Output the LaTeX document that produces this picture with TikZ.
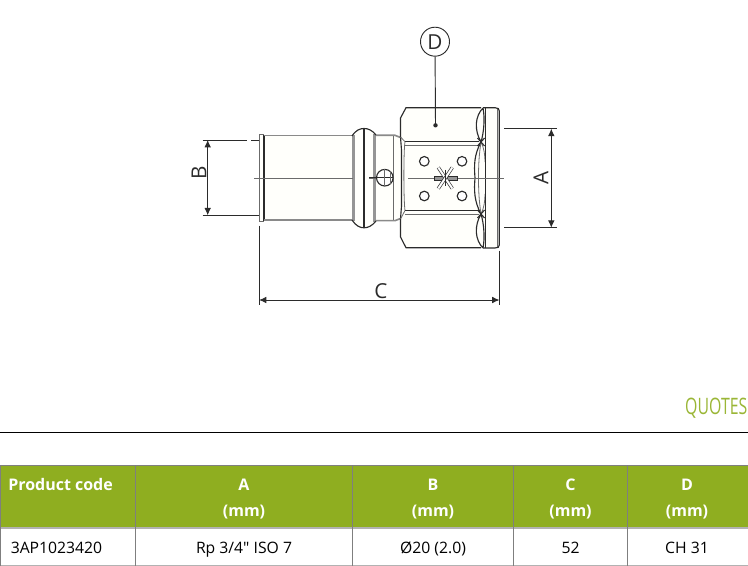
\documentclass[tikz,border=0pt]{standalone}
\usepackage{fontspec}
\setmainfont{Open Sans}[Ligatures=TeXOff]
\definecolor{hdr}{HTML}{8FAE20}
\definecolor{grid}{HTML}{7F7F7F}
\definecolor{ink}{HTML}{2B2B2B}
\definecolor{fillw}{HTML}{FFFFFB}
\usetikzlibrary{arrows.meta}
\tikzset{
  dimline/.style={draw=ink,line width=.7pt},
  dimarrow/.style={dimline,{Latex[length=5.5pt,width=5pt]}-{Latex[length=5.5pt,width=5pt]}},
  outline/.style={draw=ink,line width=.85pt},
  thinl/.style={draw=ink!70,line width=.6pt},
  greyl/.style={draw=ink!55,line width=1.2pt},
  bandl/.style={draw=ink!50,line width=2.2pt},
  thick1/.style={draw=ink,line width=1.6pt},
  centre/.style={draw=ink!70,line width=.7pt},
  stararm/.style={draw=ink,line width=.5pt,double=white,double distance=1.5pt},
  dimlabel/.style={font=\fontsize{15.5}{15.5}\selectfont,text=ink,inner sep=0pt},
  hcell/.style={font=\bfseries\fontsize{12}{16.5}\selectfont,text=white,align=center,inner sep=0pt},
  bcell/.style={font=\fontsize{11.8}{14}\selectfont,text=black,inner sep=0pt},
  gridv/.style={draw=grid,line width=.8pt},
  gridh/.style={draw=grid!60,line width=.8pt},
}
\begin{document}
\begin{tikzpicture}[x=0.75pt,y=-0.75pt]
\useasboundingbox (0,0) rectangle (748,566);
% --- fitting: fill
\fill[fillw] (259,134.5) rectangle (264,221.5);
\fill[fillw] (264,136) -- (352,136) .. controls (356,130) and (360,128.5) .. (364,128.5) .. controls (368,128.5) and (372,130) .. (376,135) -- (395,135) -- (400.5,137) -- (400.5,118) -- (406,107.7) -- (495,107.7) .. controls (498,107.7) and (499.3,109) .. (499.3,111) -- (499.3,245) .. controls (499.3,247) and (498,248) .. (495,248) -- (406,248) -- (400.5,237) -- (400.5,219) -- (395,221) -- (376,221) .. controls (372,226) and (368,227.8) .. (364,227.8) .. controls (360,227.8) and (356,226) .. (352,220) -- (264,220) -- cycle;
% tube
\draw[thinl] (259,134.5) rectangle (263,221.5);
\draw[thick1] (264,135.5) -- (264,221);
\draw[greyl] (264,135.7) -- (352,135.7);
\draw[greyl] (264,220) -- (352,220);
% bead
\draw[bandl] (353.5,135) -- (353.5,221);
\draw[thick1] (364,128.5) -- (364,227.8);
\draw[bandl] (374.5,134) -- (374.5,222);
\draw[outline] (352,136) .. controls (356,130) and (360,128.5) .. (364,128.5) .. controls (368,128.5) and (372,130) .. (376,135);
\draw[outline] (352,220) .. controls (356,226) and (360,227.8) .. (364,227.8) .. controls (368,227.8) and (372,226) .. (376,221);
% collar
\draw[greyl] (376,135.3) -- (395,135.3) -- (400.5,137.5);
\draw[greyl] (376,220.7) -- (395,220.7) -- (400.5,218.5);
\draw[thinl] (393.5,136) -- (393.5,220);
% hex
\draw[outline] (400.5,137) -- (400.5,118) -- (406,107.7) -- (481,107.7);
\draw[outline] (400.5,219) -- (400.5,237) -- (406,247.7) -- (481,247.7);
\draw[outline] (400.5,137) -- (401.5,150) -- (401.5,206) -- (400.5,219);
\draw[thinl] (400.5,137) -- (405,141.7);
\draw[outline] (405,141.7) -- (479,141.7);
\draw[thinl] (405,145.5) -- (479,145.5);
\draw[thinl] (400.5,219) -- (405,210.5);
\draw[outline] (405,210.5) -- (479,210.5);
\draw[thinl] (405,214.8) -- (479,214.8);
\draw[thinl] (405,141.7) .. controls (403.5,150) and (403.5,200) .. (405,210.5);
% scallops: outer lenses
\draw[outline] (483,108) .. controls (475,116) and (474,130) .. (481,142) .. controls (484,132) and (485,118) .. (483,108);
\draw[outline] (483,248) .. controls (475,240) and (474,226) .. (481,214) .. controls (484,224) and (485,238) .. (483,248);
% scallops: middle lens
\draw[outline] (481,142) .. controls (474,155) and (474,165) .. (475,178) .. controls (474,190) and (474,201) .. (481,214);
\draw[thinl] (481,142) .. controls (479,155) and (478.5,165) .. (478.5,178) .. controls (478.5,190) and (479,201) .. (481,214);
\draw[thinl] (481,142) .. controls (484,148) and (485,155) .. (485,162);
\draw[thinl] (481,214) .. controls (484,208) and (485,201) .. (485,194);
\draw[outline] (477.5,138) -- (484.5,146);
\draw[outline] (484.5,138) -- (477.5,146);
\draw[outline] (477.5,210) -- (484.5,218);
\draw[outline] (484.5,210) -- (477.5,218);
% flange
\draw[outline] (485.7,108) -- (485.7,248);
\draw[thinl] (497,108) -- (497,248);
\draw[outline] (483,107.7) -- (495,107.7) .. controls (498,107.7) and (499.3,109) .. (499.3,111) -- (499.3,245) .. controls (499.3,247) and (498,248) .. (495,248) -- (483,248);
% centre lines
\draw[centre] (254,178) -- (353,178);
\draw[centre] (369,178) -- (376,178);
\draw[centre] (408,178) -- (504,178);
% face details
\foreach \p/\n in {424.3/161.3,462/161.3,424.3/196,462/196}
  \draw[outline,fill=white] (\p,\n) circle[radius=4.8];
\fill[ink!50] (434,175.8) rectangle (457,180.3);
\draw[ink,line width=.4pt] (434,175.8) rectangle (457,180.3);
\draw[stararm] (445.3,178) ++(-7,-10.5) -- ++(14,21);
\draw[stararm] (445.3,178) ++(7,-10.5) -- ++(-14,21);
\draw[ink,line width=.7pt] (445.3,170) -- (445.3,186);
% plug
\draw[outline,fill=white] (384.8,177.7) circle[radius=8.3];
\draw[outline] (369,177.7) -- (393.1,177.7);
\draw[thinl] (384.3,169.5) -- (384.3,186);
\draw[thinl] (390,171.5) -- (390,184);
% --- dimensions
\coordinate (bt1) at (202.7,140);  \coordinate (bt2) at (246.7,140);
\coordinate (bt3) at (251,140);    \coordinate (bt4) at (259,140);
\coordinate (bb1) at (202.7,215.3);\coordinate (bb4) at (259,215.3);
\coordinate (ba) at (207.7,140);   \coordinate (bz) at (207.7,215.3);
\draw[dimline] (bt1) -- (bt2) (bt3) -- (bt4) (bb1) -- (bb4);
\draw[dimarrow] (ba) -- (bz);
\node[dimlabel,rotate=90] (labB) at (199,173) {B};
\coordinate (c1) at (259,225.7);  \coordinate (c2) at (259,304.5);
\coordinate (c3) at (499.5,250.7);\coordinate (c4) at (499.5,304.5);
\coordinate (ca) at (259,300);    \coordinate (cz) at (499.5,300);
\draw[dimline] (c1) -- (c2) (c3) -- (c4);
\draw[dimarrow] (ca) -- (cz);
\node[dimlabel] (labC) at (381,291) {C};
\coordinate (a1) at (504,128.7); \coordinate (a2) at (556.7,128.7);
\coordinate (a3) at (504,227.7); \coordinate (a4) at (556.7,227.7);
\coordinate (aa) at (551.3,128.7);\coordinate (az) at (551.3,227.7);
\draw[dimline] (a1) -- (a2) (a3) -- (a4);
\draw[dimarrow] (aa) -- (az);
\node[dimlabel,rotate=90] (labA) at (541,178) {A};
\node[draw=ink,line width=.7pt,circle,minimum size=21.75pt,inner sep=0pt,font=\fontsize{15.5}{15.5}\selectfont,text=ink] (circD) at (435,41.7) {D};
\coordinate (dotD) at (435.5,125.3);
\draw[dimline] (circD) -- (dotD);
\fill[ink] (dotD) circle[radius=2.2];
% --- heading
\node[anchor=east,inner sep=0pt,text=hdr!90,font=\fontsize{17}{17}\selectfont,xscale=.7] (quotes) at (747.5,408) {QUOTES};
\coordinate (r1) at (0,432.4); \coordinate (r2) at (748,432.4);
\draw[black,line width=.8pt] (r1) -- (r2);
% --- table
\fill[hdr] (0,465.7) rectangle (748,528);
\draw[gridv] (0,465.7) -- (748,465.7);
\draw[gridh] (0,528) -- (748,528);
\draw[gridh] (0,565.6) -- (748,565.6);
\foreach \x in {0.6,135.5,352.5,513.3,627.3}
  \draw[gridv] (\x,465.7) -- (\x,566);
\node[hcell,anchor=base west] (h0) at (8,490) {Product code};
\node[hcell,anchor=base] (h1a) at (244,490) {A};
\node[hcell,anchor=base] (h1b) at (244,516) {(mm)};
\node[hcell,anchor=base] (h2a) at (433,490) {B};
\node[hcell,anchor=base] (h2b) at (433,516) {(mm)};
\node[hcell,anchor=base] (h3a) at (570.5,490) {C};
\node[hcell,anchor=base] (h3b) at (570.5,516) {(mm)};
\node[hcell,anchor=base] (h4a) at (687,490) {D};
\node[hcell,anchor=base] (h4b) at (687,516) {(mm)};
\node[bcell,anchor=base west] (c0) at (10.5,553) {3AP1023420};
\node[bcell,anchor=base] (c1t) at (244,553) {Rp 3/4" ISO 7};
\node[bcell,anchor=base] (c2t) at (433,553) {Ø20 (2.0)};
\node[bcell,anchor=base] (c3t) at (570.5,553) {52};
\node[bcell,anchor=base] (c4t) at (687,553) {CH 31};
\end{tikzpicture}
\end{document}
